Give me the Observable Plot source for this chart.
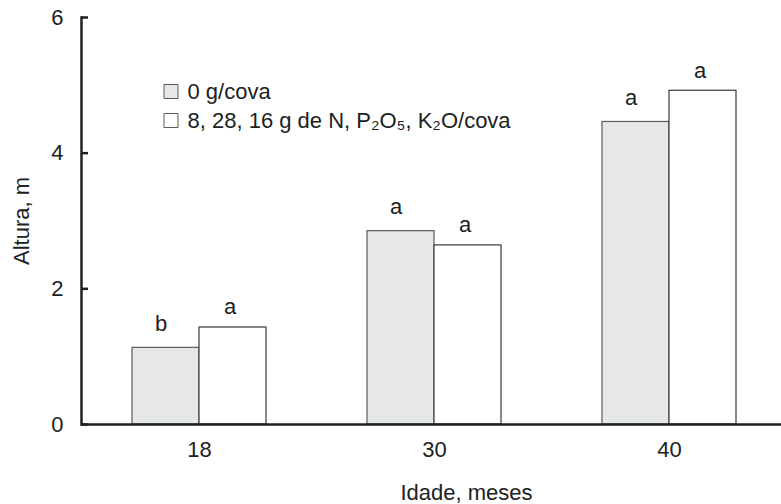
<!DOCTYPE html>
<html>
<head>
<meta charset="utf-8">
<script src="https://cdn.jsdelivr.net/npm/d3@7"></script>
<script src="https://cdn.jsdelivr.net/npm/@observablehq/plot@0.6"></script>
<style>
  html, body { margin: 0; padding: 0; background: #fff; }
  #chart { width: 781px; height: 504px; }
</style>
</head>
<body>
<div id="chart"></div>
<script>
const ages = ["18", "30", "40"];
const seriesNames = ["0 g/cova", "8, 28, 16 g de N, P₂O₅, K₂O/cova"];
const control = [1.13, 2.85, 4.46];
const fertilized = [1.43, 2.64, 4.92];
const controlLetters = ["b", "a", "a"];
const fertilizedLetters = ["a", "a", "a"];
const yTicks = [0, 2, 4, 6];
const xTitle = "Idade, meses";
const yTitle = "Altura, m";

const gray = "#e6e7e8";
const barStroke = "#5a5a5a";
const axisColor = "#1b2222";
const textColor = "#1b2222";

const ctrlData = ages.map((a, i) => ({age: a, value: control[i], letter: controlLetters[i]}));
const fertData = ages.map((a, i) => ({age: a, value: fertilized[i], letter: fertilizedLetters[i]}));
const legendData = seriesNames.map((s, i) => ({name: s, fill: i === 0 ? gray : "#ffffff", row: i}));

const half = 67;
const fs = 22;

const plot = Plot.plot({
  width: 781,
  height: 504,
  marginLeft: 81,
  marginRight: 0,
  marginTop: 17,
  marginBottom: 80,
  style: {fontFamily: "'Liberation Sans', Arial, Helvetica, sans-serif", fontSize: fs + "px", color: textColor, background: "#fff"},
  x: {domain: ages, range: [132, 736], paddingInner: 0.43, paddingOuter: 0, label: null},
  y: {domain: [0, 6], label: null},
  marks: [
    Plot.barY(ctrlData, {x: "age", y: "value", fill: gray, stroke: barStroke, strokeWidth: 1.2, insetRight: half}),
    Plot.barY(fertData, {x: "age", y: "value", fill: "#ffffff", stroke: "#3a3a3a", strokeWidth: 1.2, insetLeft: half}),
    Plot.text(ctrlData, {x: "age", y: "value", text: "letter", dx: -half / 2 - 5, dy: -17, lineAnchor: "bottom", fontSize: fs}),
    Plot.text(fertData, {x: "age", y: "value", text: "letter", dx: half / 2 - 3, dy: -13, lineAnchor: "bottom", fontSize: fs}),
    Plot.frame({anchor: "left", stroke: axisColor, strokeWidth: 2.5}),
    Plot.ruleY([0], {stroke: axisColor, strokeWidth: 2.5}),
    Plot.axisY({ticks: yTicks, tickFormat: d3.format("d"), tickSize: -7, tickPadding: 25, strokeWidth: 2.5, stroke: axisColor, label: null, fontSize: fs}),
    Plot.axisX({tickSize: 0, tickPadding: 17, label: null, fontSize: fs}),
    Plot.text([xTitle], {frameAnchor: "bottom", dx: 35, dy: 68, lineAnchor: "middle", textAnchor: "middle", fontSize: fs}),
    Plot.text([yTitle], {frameAnchor: "left", rotate: -90, dx: -60, lineAnchor: "middle", textAnchor: "middle", fontSize: fs}),
    ...legendData.map(d => Plot.dot([d], {frameAnchor: "top-left", dx: 89.5, dy: 74 + d.row * 29, symbol: "square", r: 7.9, fill: d.fill, stroke: barStroke, strokeWidth: 1})),
    ...legendData.map(d => Plot.text([d], {frameAnchor: "top-left", dx: 106, dy: 74 + d.row * 29, text: "name", textAnchor: "start", lineAnchor: "middle", fontSize: fs}))
  ]
});
document.getElementById("chart").appendChild(plot);
</script>
</body>
</html>
